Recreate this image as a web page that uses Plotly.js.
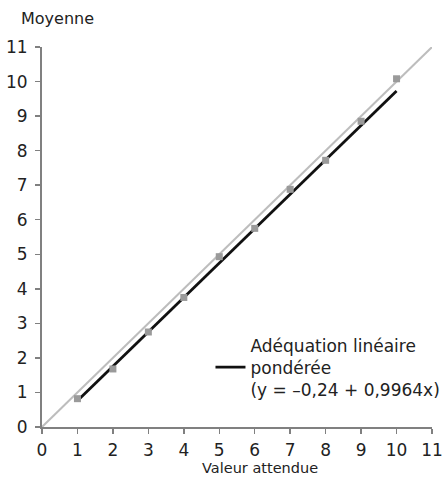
<!DOCTYPE html>
<html><head><meta charset="utf-8">
<script src="https://cdn.plot.ly/plotly-3.0.1.min.js"></script>
<style>html,body{margin:0;padding:0;background:#fff}#c{width:442px;height:479px}</style>
</head><body><div id="c"></div>
<script>
const expected = [1, 2, 3, 4, 5, 6, 7, 8, 9, 10];
const measured = [0.82, 1.68, 2.75, 3.75, 4.93, 5.75, 6.88, 7.72, 8.85, 10.08];
const identityX = [0, 11];
const identityY = [0, 11];
const fitIntercept = -0.24;
const fitSlope = 0.9964;
const fitX = [1, 10];
const fitY = fitX.map(x => fitIntercept + fitSlope * x);
const tickVals = [0,1,2,3,4,5,6,7,8,9,10,11];
const fitName = 'Adéquation linéaire<br>pondérée<br>(y = –0,24 + 0,9964x)';

const FONT = 'DejaVu Sans, sans-serif';
const data = [
  {x: identityX, y: identityY, mode: 'lines', line: {color: '#bdbdbd', width: 2}, showlegend: false, hoverinfo: 'skip'},
  {x: fitX, y: fitY, mode: 'lines', line: {color: '#111', width: 2.8}, name: fitName, showlegend: true},
  {x: expected, y: measured, mode: 'markers', marker: {symbol: 'square', size: 7, color: '#9a9a9a'}, showlegend: false}
];
const axisCommon = {
  range: [0, 11], tickvals: tickVals, ticktext: tickVals.map(String),
  showgrid: false, zeroline: false, showline: true, linecolor: '#808080', linewidth: 2,
  ticks: 'outside', ticklen: 5, tickwidth: 1.5, tickcolor: '#808080',
  tickfont: {family: FONT, size: 17, color: '#222'}, automargin: false, ticklabeloverflow: 'allow'
};
const layout = {
  width: 442, height: 479,
  margin: {l: 42, r: 10, t: 47, b: 52, autoexpand: false},
  paper_bgcolor: '#fff', plot_bgcolor: '#fff',
  xaxis: Object.assign({}, axisCommon, {ticklabelstandoff: 2}),
  yaxis: Object.assign({}, axisCommon, {ticklabelstandoff: 4}),
  legend: {x: 0.432, y: 0.262, xanchor: 'left', yanchor: 'top', bgcolor: 'rgba(0,0,0,0)',
    font: {family: FONT, size: 17, color: '#222'}, itemwidth: 30, tracegroupgap: 0},
  annotations: [
    {text: 'Moyenne', xref: 'paper', yref: 'paper', x: -0.06, y: 1.045, xanchor: 'left', yanchor: 'bottom', showarrow: false, font: {family: FONT, size: 16, color: '#222'}},
    {text: 'Valeur attendue', xref: 'paper', yref: 'paper', x: 0.56, y: -0.085, xanchor: 'center', yanchor: 'top', showarrow: false, borderpad: 0, font: {family: FONT, size: 14.5, color: '#222'}}
  ],
  showlegend: true
};
Plotly.newPlot('c', data, layout, {displayModeBar: false, staticPlot: true});
</script></body></html>
